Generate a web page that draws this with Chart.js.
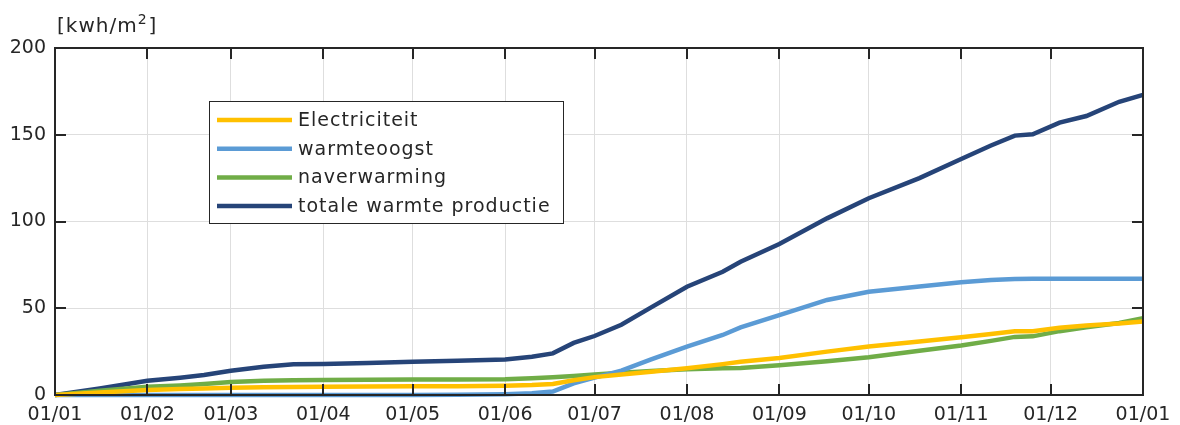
<!DOCTYPE html>
<html>
<head>
<meta charset="utf-8">
<script src="https://cdn.jsdelivr.net/npm/chart.js@4"></script>
<style>
  html, body { margin: 0; padding: 0; background: #fff; }
  #wrap { width: 1180px; height: 425px; position: relative; }
</style>
</head>
<body>
<div id="wrap"><canvas id="chart" width="1180" height="425"></canvas></div>
<script>
// day of year (0 = 01/01)
const days = [0, 15, 31, 42, 50, 59, 70, 80, 90, 105, 120, 135, 151, 160, 167, 174, 181, 190, 200, 212, 224, 230, 243, 259, 273, 290, 304, 314, 322, 328, 337, 346, 357, 365];

const electriciteit = [0, 1.5, 2.9, 3.4, 3.8, 4.2, 4.5, 4.6, 4.7, 4.9, 5.0, 5.1, 5.3, 5.7, 6.4, 8.5, 10.3, 11.8, 13.4, 15.4, 17.8, 19.2, 21.3, 25.0, 28.0, 30.8, 33.3, 35.2, 36.7, 36.8, 38.7, 40.0, 41.2, 42.4];
const warmteoogst = [0, 0, 0, 0, 0, 0, 0, 0, 0, 0, 0, 0.2, 0.5, 1.0, 2.0, 6.7, 10.0, 14.0, 20.5, 27.9, 34.6, 39.0, 46.0, 54.8, 59.5, 62.5, 65.0, 66.3, 66.8, 67.0, 67.0, 67.0, 67.0, 67.0];
const naverwarming = [0, 2.5, 4.8, 5.5, 6.3, 7.5, 8.2, 8.5, 8.6, 8.8, 8.9, 9.0, 9.1, 9.6, 10.2, 10.9, 11.8, 12.8, 13.8, 14.8, 15.4, 15.6, 17.2, 19.4, 21.7, 25.5, 28.5, 31.2, 33.5, 33.8, 36.8, 39.0, 41.5, 44.3];
const totaleWarmte = [0, 3.8, 8.2, 10.0, 11.5, 14.0, 16.3, 17.7, 17.8, 18.5, 19.2, 19.8, 20.5, 22.0, 24.0, 30.0, 34.0, 40.5, 50.5, 62.4, 71.0, 76.8, 87.0, 101.8, 113.4, 125.0, 136.0, 143.8, 149.5, 150.3, 157.0, 160.8, 169.0, 173.0];

const monthDays = [0, 31, 59, 90, 120, 151, 181, 212, 243, 273, 304, 334, 365];
const monthLabels = ['01/01', '01/02', '01/03', '01/04', '01/05', '01/06', '01/07', '01/08', '01/09', '01/10', '01/11', '01/12', '01/01'];
const yTicks = [0, 50, 100, 150, 200];

const seriesNames = ['Electriciteit', 'warmteoogst', 'naverwarming', 'totale warmte productie'];
const seriesColors = ['#FFC000', '#5B9BD5', '#70AD47', '#264478'];
const seriesValues = [electriciteit, warmteoogst, naverwarming, totaleWarmte];

const FONT = '"DejaVu Sans", Verdana, sans-serif';
const TEXT = '#262626';

function toPoints(vals) {
    return days.map((d, i) => ({x: d, y: vals[i]}));
}

const datasets = seriesValues.map((vals, i) => ({
    label: seriesNames[i],
    data: toPoints(vals),
    borderColor: seriesColors[i],
    backgroundColor: seriesColors[i],
    borderWidth: 4.5,
    pointRadius: 0,
    tension: 0,
    clip: 5
}));

// frame, inward ticks, legend box and unit label
const framePlugin = {
    id: 'frame',
    afterDraw(chart) {
        const {ctx, chartArea: a, scales} = chart;
        ctx.save();
        ctx.strokeStyle = TEXT;
        ctx.lineWidth = 2;
        ctx.strokeRect(a.left, a.top, a.right - a.left, a.bottom - a.top);
        ctx.beginPath();
        monthDays.forEach(d => {
            const x = Math.round(scales.x.getPixelForValue(d));
            ctx.moveTo(x, a.bottom); ctx.lineTo(x, a.bottom - 11);
            ctx.moveTo(x, a.top); ctx.lineTo(x, a.top + 11);
        });
        yTicks.forEach(v => {
            const y = Math.round(scales.y.getPixelForValue(v));
            ctx.moveTo(a.left, y); ctx.lineTo(a.left + 11, y);
            ctx.moveTo(a.right, y); ctx.lineTo(a.right - 11, y);
        });
        ctx.stroke();

        // legend
        const lx = 209, ly = 101, lw = 354, lh = 122;
        ctx.fillStyle = '#fff';
        ctx.fillRect(lx, ly, lw, lh);
        ctx.lineWidth = 1;
        ctx.strokeStyle = TEXT;
        ctx.strokeRect(lx + 0.5, ly + 0.5, lw, lh);
        ctx.font = '19px ' + FONT;
        ctx.letterSpacing = '1px';
        ctx.textBaseline = 'middle';
        ctx.textAlign = 'left';
        seriesNames.forEach((name, i) => {
            const y = 120 + i * 28.7;
            ctx.strokeStyle = seriesColors[i];
            ctx.lineWidth = 4.5;
            ctx.beginPath();
            ctx.moveTo(217, y); ctx.lineTo(292, y);
            ctx.stroke();
            ctx.fillStyle = TEXT;
            ctx.fillText(name, 298, y + 1);
        });

        // unit label
        ctx.fillStyle = TEXT;
        ctx.textBaseline = 'alphabetic';
        ctx.font = '20px ' + FONT;
        ctx.letterSpacing = '1px';
        const first = '[kwh/m';
        ctx.fillText(first, 57, 32);
        const w = ctx.measureText(first).width;
        ctx.font = '14px ' + FONT;
        ctx.fillText('2', 57 + w, 24);
        const w2 = ctx.measureText('2').width;
        ctx.font = '20px ' + FONT;
        ctx.fillText(']', 57 + w + w2 + 1, 32);
        ctx.restore();
    }
};

new Chart(document.getElementById('chart'), {
    type: 'line',
    data: {datasets: datasets},
    options: {
        responsive: false,
        animation: false,
        devicePixelRatio: 1,
        layout: {padding: {top: 48, right: 37, left: 0, bottom: 0}},
        plugins: {legend: {display: false}, tooltip: {enabled: false}},
        scales: {
            x: {
                type: 'linear',
                min: 0,
                max: 365,
                afterBuildTicks: scale => { scale.ticks = monthDays.map(d => ({value: d})); },
                afterFit: scale => { scale.height = 30; },
                ticks: {
                    autoSkip: false,
                    maxRotation: 0,
                    padding: 9,
                    color: TEXT,
                    font: {family: FONT, size: 19},
                    callback: (v, i) => monthLabels[i]
                },
                grid: {color: '#dedede', lineWidth: 1, drawTicks: false},
                border: {display: false}
            },
            y: {
                min: 0,
                max: 200,
                afterBuildTicks: scale => { scale.ticks = yTicks.map(v => ({value: v})); },
                afterFit: scale => { scale.width = 55; },
                ticks: {
                    padding: 9,
                    color: TEXT,
                    font: {family: FONT, size: 19}
                },
                grid: {color: '#dedede', lineWidth: 1, drawTicks: false},
                border: {display: false}
            }
        }
    },
    plugins: [framePlugin]
});
</script>
</body>
</html>
